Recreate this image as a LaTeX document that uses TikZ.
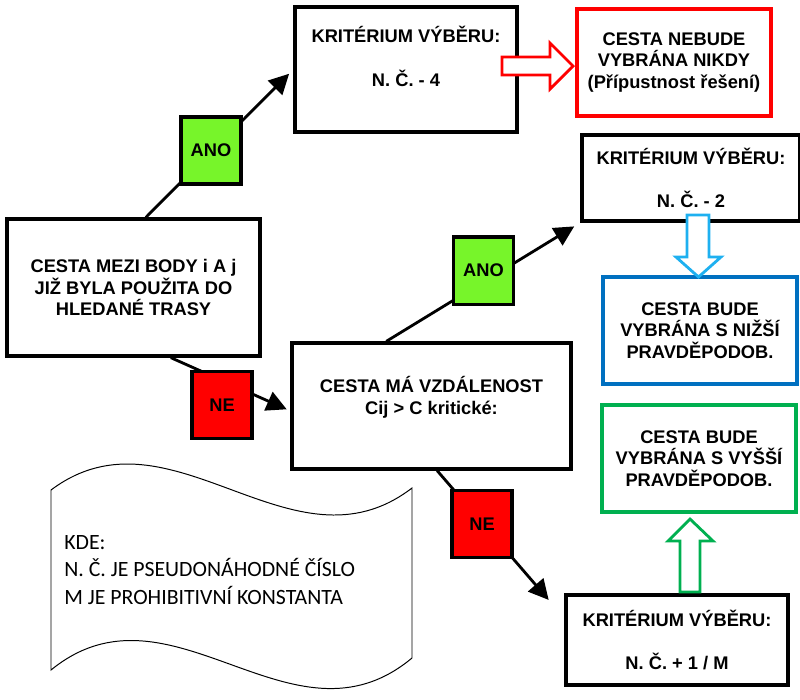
\documentclass[tikz,border=0pt]{standalone}
\usepackage{fontspec}
\setmainfont{Liberation Sans}
\newfontfamily\notefont{Carlito}
\usetikzlibrary{arrows.meta,backgrounds}

\definecolor{anogreen}{RGB}{119,245,42}
\definecolor{nered}{RGB}{255,0,0}
\definecolor{lowblue}{RGB}{0,112,192}
\definecolor{arrblue}{RGB}{30,176,240}
\definecolor{highgreen}{RGB}{0,176,80}

\tikzset{
  box/.style={draw, line width=2.3pt, align=center, inner sep=0pt,
    font=\bfseries\fontsize{13pt}{15.5pt}\selectfont},
  tag/.style={draw, line width=2.3pt, minimum width=1.5cm, minimum height=1.68cm,
    inner sep=0pt, font=\bfseries\fontsize{13pt}{15.5pt}\selectfont},
  conn/.style={line width=2pt, -{Triangle[length=0.5cm,width=0.5cm]}},
  fat/.style={line width=2pt, fill=white, line join=miter},
  note/.style={align=left, inner sep=0pt,
    font=\notefont\fontsize{15.5pt}{19.5pt}\selectfont},
}

\begin{document}
\begin{tikzpicture}[x=0.025cm, y=-0.025cm]
    \useasboundingbox (0,0) rectangle (800,699);

    % Starting question
    \node[box, minimum width=6.325cm, minimum height=3.425cm] (main) at (133.5,287.5)
        {CESTA MEZI BODY i A j\\JIŽ BYLA POUŽITA DO\\HLEDANÉ TRASY};

    % Second question
    \node[box, minimum width=6.975cm, minimum height=3.15cm, text depth=0.55cm] (cma) at (431.5,406)
        {CESTA MÁ VZDÁLENOST\\Cij > C kritické:};

    % Selection criteria
    \node[box, minimum width=5.55cm, minimum height=3.125cm, text depth=0.65cm] (kr1) at (406,69.5)
        {KRITÉRIUM VÝBĚRU:\\[\baselineskip]N. Č. - 4};
    \node[box, minimum width=5.45cm, minimum height=2.15cm] (kr2) at (691,178)
        {KRITÉRIUM VÝBĚRU:\\[\baselineskip]N. Č. - 2};
    \node[box, minimum width=5.55cm, minimum height=2.25cm] (kr3) at (677,640)
        {KRITÉRIUM VÝBĚRU:\\[\baselineskip]N. Č. + 1 / M};

    % Results
    \node[box, draw=nered, minimum width=4.85cm, minimum height=2.675cm] (nebude) at (674,62.5)
        {CESTA NEBUDE\\VYBRÁNA NIKDY\\(Přípustnost řešení)};
    \node[box, draw=lowblue, minimum width=4.85cm, minimum height=2.675cm] (nizsi) at (700,330.5)
        {CESTA BUDE\\VYBRÁNA S NIŽŠÍ\\PRAVDĚPODOB.};
    \node[box, draw=highgreen, minimum width=4.85cm, minimum height=2.675cm] (vyssi) at (699,458.5)
        {CESTA BUDE\\VYBRÁNA S VYŠŠÍ\\PRAVDĚPODOB.};

    % Answers
    \node[tag, fill=anogreen] (ano1) at (211,150.5) {ANO};
    \node[tag, fill=anogreen] (ano2) at (483.5,270.5) {ANO};
    \node[tag, fill=nered] (ne1) at (222,405) {NE};
    \node[tag, fill=nered] (ne2) at (482,524) {NE};

    % Connectors behind the answers
    \begin{scope}[on background layer]
        \draw[conn, shorten >=0.15cm] (main.80) -- (kr1.west);
        \draw[conn, shorten >=0.1cm] (main.298) -- (cma.182);
        \draw[conn, shorten >=0.18cm] (cma.125) -- (kr2.south west);
        \draw[conn, shorten >=0.6cm] (cma.275) -- (kr3.169);
    \end{scope}

    % Hollow arrows
    \draw[fat, draw=nered] (502,57) -- (550,57) -- (550,43) -- (573,66)
        -- (550,89) -- (550,75) -- (502,75) -- cycle;
    \draw[fat, draw=arrblue] (687,215) -- (687,257) -- (676,257) -- (698.5,277)
        -- (721,257) -- (709,257) -- (709,215) -- cycle;
    \draw[fat, draw=highgreen] (680,592) -- (680,541) -- (668,541) -- (690,519)
        -- (713,541) -- (700,541) -- (700,592) -- cycle;

    % Legend
    \draw[line width=0.7pt, fill=white] (51,490) .. controls (171,400) and (292,580) .. (412,488)
        -- (412,658) .. controls (292,758) and (171,572) .. (51,670) -- cycle;
    \node[note, anchor=west] (kde) at (64,570)
        {KDE:\\N. Č. JE PSEUDONÁHODNÉ ČÍSLO\\M JE PROHIBITIVNÍ KONSTANTA};

\end{tikzpicture}
\end{document}
